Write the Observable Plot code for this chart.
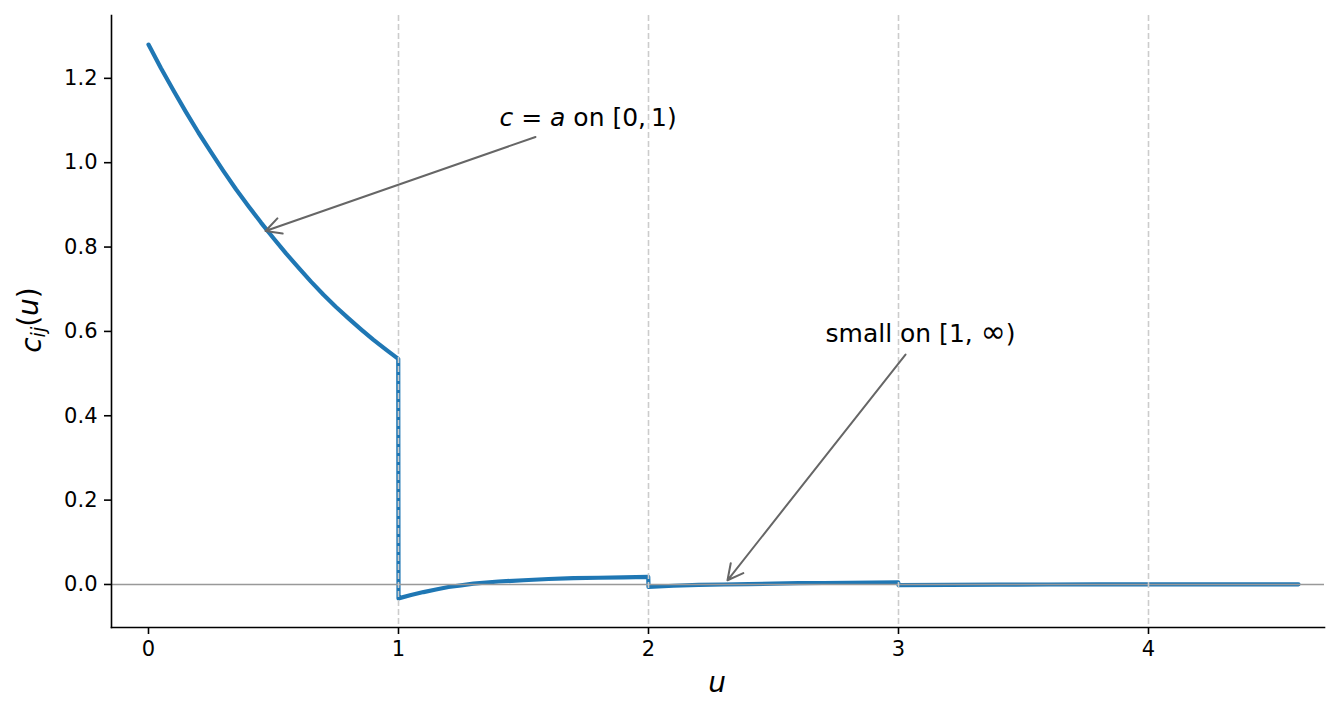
<!DOCTYPE html>
<html>
<head>
<meta charset="utf-8">
<script src="https://cdn.jsdelivr.net/npm/d3@7"></script>
<script src="https://cdn.jsdelivr.net/npm/@observablehq/plot@0.6"></script>
<style>
  html, body { margin: 0; padding: 0; background: #fff; }
  #chart svg { display: block; }
</style>
</head>
<body>
<div id="chart"></div>
<script>
// Curve samples
const uValues = [0, 0.05, 0.1, 0.15, 0.2, 0.25, 0.3, 0.35, 0.4, 0.45, 0.5, 0.55, 0.6, 0.65, 0.7, 0.75, 0.8, 0.85, 0.9, 0.95, 0.999,
  1.0, 1.05, 1.1, 1.15, 1.2, 1.25, 1.3, 1.4, 1.5, 1.6, 1.7, 1.8, 1.9, 1.999,
  2.0, 2.1, 2.2, 2.3, 2.4, 2.5, 2.6, 2.7, 2.8, 2.9, 2.999,
  3.0, 3.2, 3.4, 3.6, 3.8, 4.0, 4.3, 4.6];
const cValues = [1.280, 1.224, 1.171, 1.120, 1.071, 1.025, 0.980, 0.937, 0.897, 0.858, 0.821, 0.785, 0.751, 0.718, 0.687, 0.658, 0.631, 0.605, 0.580, 0.557, 0.535,
  -0.033, -0.025, -0.018, -0.012, -0.006, -0.002, 0.002, 0.007, 0.010, 0.013, 0.015, 0.016, 0.017, 0.018,
  -0.006, -0.003, -0.001, 0.000, 0.001, 0.002, 0.003, 0.0035, 0.004, 0.0045, 0.005,
  -0.0015, -0.0008, -0.0003, 0.0, 0.0003, 0.0004, 0.0004, 0.0004];
const xTicks = [0, 1, 2, 3, 4];
const yTicks = [0, 0.2, 0.4, 0.6, 0.8, 1.0, 1.2];
const gridXs = [1, 2, 3, 4];
const xDomain = [-0.148, 4.704];
const yDomain = [-0.102, 1.349];
// Annotations: text anchor point and arrow (tail -> head)
const noteLabels = ["c = a on [0, 1)", "small on [1, ∞)"];
const noteX = [1.404, 2.708];
const noteY = [1.106, 0.594];
const arrowX1 = [1.548, 3.028];
const arrowY1 = [1.061, 0.545];
const arrowX2 = [0.468, 2.316];
const arrowY2 = [0.838, 0.010];

const curve = uValues.map((u, i) => ({u, c: cValues[i]}));
const notes = noteLabels.map((t, i) => ({t, x: noteX[i], y: noteY[i]}));
const arrows = arrowX1.map((x1, i) => ({x1, y1: arrowY1[i], x2: arrowX2[i], y2: arrowY2[i]}));

const chart = Plot.plot({
  width: 1340,
  height: 715,
  marginLeft: 111,
  marginRight: 16,
  marginTop: 15,
  marginBottom: 88,
  style: {fontFamily: "DejaVu Sans", fontSize: "20px", color: "#000", background: "#fff"},
  x: {domain: xDomain},
  y: {domain: yDomain},
  marks: [
    Plot.text(notes, {x: "x", y: "y", text: "t", textAnchor: "start", fontSize: 25, fill: "#000"}),
    Plot.line(curve, {x: "u", y: "c", stroke: "#1f77b4", strokeWidth: 4.2, strokeLinejoin: "round"}),
    Plot.ruleY([0], {stroke: "#999", strokeWidth: 1.6}),
    Plot.gridX({ticks: gridXs, stroke: "#ccc", strokeOpacity: 1, strokeWidth: 1.6, strokeDasharray: "6,3"}),
    Plot.arrow(arrows, {x1: "x1", y1: "y1", x2: "x2", y2: "y2", stroke: "#666", strokeWidth: 2, headLength: 13, headAngle: 55}),
    Plot.frame({anchor: "left", stroke: "#000", strokeWidth: 1.6}),
    Plot.frame({anchor: "bottom", stroke: "#000", strokeWidth: 1.6}),
    Plot.axisX({ticks: xTicks, tickFormat: d3.format("d"), tickSize: 7, tickPadding: 7, fontSize: 21, strokeWidth: 1.6, label: null}),
    Plot.axisY({ticks: yTicks, tickFormat: d3.format(".1f"), tickSize: 7, tickPadding: 7, fontSize: 21, strokeWidth: 1.6, label: null})
  ]
});

document.getElementById("chart").appendChild(chart);

const svg = d3.select(chart);
// Rich text for annotations (italic math letters, math spacing)
svg.selectAll("text").each(function() {
  const el = d3.select(this);
  if (this.textContent === "c = a on [0, 1)") {
    el.text(null);
    el.append("tspan").attr("font-style", "italic").text("c");
    el.append("tspan").text(" = ");
    el.append("tspan").attr("font-style", "italic").text("a");
    el.append("tspan").text(" on [0,\u20091)");
  } else if (this.textContent === "small on [1, ∞)") {
    el.text(null);
    el.append("tspan").text("small on [1, ");
    el.append("tspan").attr("font-size", 30).text("\u221E");
    el.append("tspan").text(")");
  }
});

// Axis labels
svg.append("text")
  .attr("x", 717).attr("y", 684)
  .attr("text-anchor", "middle").attr("dominant-baseline", "middle")
  .attr("font-family", "DejaVu Sans").attr("font-size", 28)
  .attr("font-style", "italic").attr("fill", "#000")
  .text("u");

const yl = svg.append("text")
  .attr("transform", "translate(33,320) rotate(-90)")
  .attr("text-anchor", "middle").attr("dominant-baseline", "middle")
  .attr("font-family", "DejaVu Sans").attr("font-size", 28).attr("fill", "#000");
yl.append("tspan").attr("font-style", "italic").text("c");
yl.append("tspan").attr("font-style", "italic").attr("font-size", 19).attr("dy", "0.3em").text("ij");
yl.append("tspan").attr("dy", "-0.3em").text("(");
yl.append("tspan").attr("font-style", "italic").text("u");
yl.append("tspan").text(")");
</script>
</body>
</html>
